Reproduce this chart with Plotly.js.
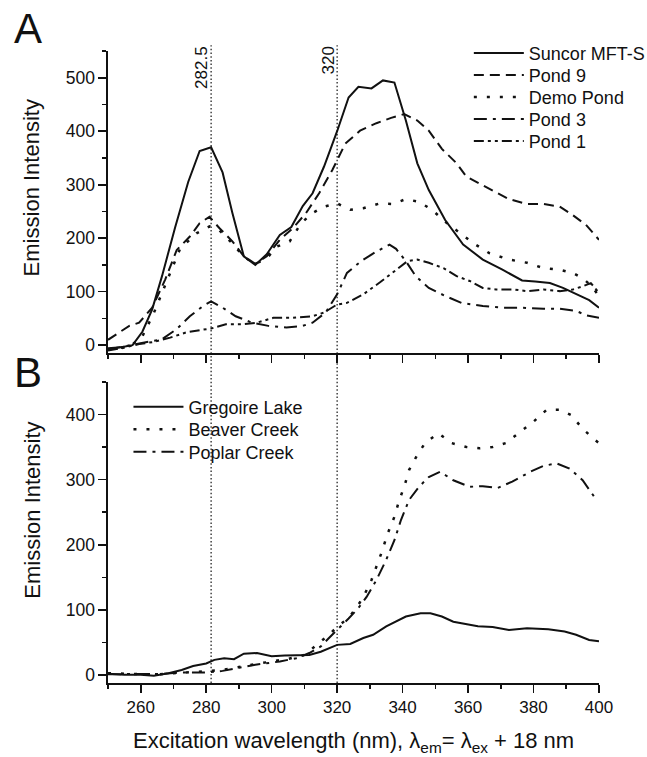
<!DOCTYPE html>
<html>
<head>
<meta charset="utf-8">
<script src="https://cdn.plot.ly/plotly-3.0.1.min.js"></script>
<style>html,body{margin:0;padding:0;background:#fff;}#chart{width:647px;height:757px;}</style>
</head>
<body>
<div id="chart"></div>
<script>
// ---- Panel A data ----
const suncorX = [250, 254, 257.5, 260.5, 263.5, 266.5, 270.5, 274.5, 278, 281.5, 285, 288, 291.5, 295, 298.5, 302.5, 306, 309.5, 312.5, 316, 320, 323.5, 326.5, 330.5, 334, 337.5, 341, 344.5, 348, 353, 358.5, 364.5, 370.5, 376.5, 380.5, 385, 389, 394, 397, 400];
const suncorY = [-6, -4, 0, 25, 67, 129, 220, 305, 363, 370, 323, 247, 166, 150, 170, 206, 221, 260, 284, 334, 400, 463, 483, 480, 495, 491, 420, 340, 290, 234, 188, 160, 141, 121, 119, 116, 107, 92, 84, 70];

const pond9X = [250, 253, 256.5, 259.5, 263.5, 267.5, 271, 275, 278, 281, 284, 288, 291.5, 295, 298.5, 302.5, 306.5, 310.5, 314.5, 318.5, 322.5, 327, 332, 336.5, 340.5, 344.5, 348, 352, 356.5, 359.5, 364.5, 368.5, 372.5, 378, 383, 388, 392, 396, 400];
const pond9Y = [10, 22, 36, 42, 70, 123, 178, 203, 228, 240, 219, 194, 166, 152, 166, 197, 219, 247, 284, 327, 377, 401, 415, 425, 432, 420, 401, 367, 340, 315, 299, 287, 273, 264, 264, 259, 243, 225, 197];

const demoX = [250, 253, 256, 260, 264, 268, 272, 277, 281, 284, 288, 291.5, 295, 298.5, 301.5, 305.5, 309, 312.5, 316, 320, 324, 328, 333, 337, 341, 345, 349, 353, 357.5, 361.5, 366.5, 372.5, 378, 383, 388, 392, 395, 397.5, 400];
const demoY = [-8, -6, -2, 10, 60, 120, 180, 209, 222, 215, 190, 165, 152, 162, 184, 194, 228, 247, 259, 265, 253, 256, 265, 264, 273, 268, 253, 231, 209, 191, 172, 160, 154, 144, 141, 135, 125, 112, 92];

const pond3X = [250, 253.5, 259.5, 263, 266.5, 271, 275, 279, 281.5, 285, 289, 294, 299, 304.5, 309.5, 312.5, 316.5, 320, 323, 327.5, 332, 336, 338, 341, 344, 348, 353, 358, 364.5, 370.5, 376.5, 383, 388, 393, 396, 400];
const pond3Y = [-8, -4, 2, 6, 11, 30, 54, 73, 82, 70, 54, 42, 36, 33, 36, 42, 61, 95, 135, 158, 175, 188, 180, 157, 129, 107, 92, 79, 73, 70, 70, 68, 68, 64, 56, 51];

const pond1X = [250, 254, 259.5, 264, 269, 274, 278, 281.5, 286, 291, 295.5, 300.5, 306.5, 312.5, 316, 320, 323, 328, 333, 338, 341.5, 344.5, 348, 352.5, 356.5, 360.5, 364.5, 368.5, 374, 378, 383, 388, 392, 395, 397.5, 400];
const pond1Y = [-10, -6, 2, 6, 14, 24, 28, 31, 39, 39, 42, 51, 51, 54, 61, 76, 79, 95, 117, 141, 157, 160, 154, 144, 129, 120, 107, 104, 104, 101, 104, 101, 104, 110, 116, 98];

// ---- Panel B data ----
const gregX = [250, 255, 260, 264, 268.5, 272.5, 276, 280, 282.5, 285.5, 288.5, 291.5, 295.5, 300, 304, 308, 311.5, 315, 320, 324, 328, 331, 335, 341, 345.5, 348.5, 352, 355.5, 359, 363, 367.5, 372.5, 378, 384.5, 389.5, 393, 397, 400];
const gregY = [2, 0.5, 0.5, -1, 3, 8, 14, 18, 23.5, 26, 24.5, 33, 34, 29, 30, 31, 31, 36, 46.5, 48, 57, 62, 75, 90, 95, 95, 90, 82, 79, 75, 74, 69.5, 72, 70.5, 67, 62, 54, 52];

const beaverX = [250, 255, 260, 265, 270, 275, 280, 285, 290, 295, 300, 305, 310, 315, 317.5, 320, 323.5, 326, 328, 330.5, 333.5, 335.5, 337.5, 339, 340.5, 342, 344.5, 347, 351, 355, 359.5, 363.5, 367.5, 371.5, 375.5, 380, 384, 388, 391.5, 395, 399, 400];
const beaverY = [3, 2, 2, 1, 3, 4, 6, 8, 13, 17, 21, 25, 31, 52, 62, 74, 88, 104, 120, 146, 187, 218, 243, 269, 289, 315, 338, 357, 371, 356, 350, 348, 350, 356, 371, 389, 407, 407, 399, 378, 360, 356];

const poplarX = [250, 255, 260, 267, 272, 280, 285, 290, 295, 302.5, 307.5, 311.5, 315, 317.5, 320, 323.5, 326.5, 329, 332, 335, 337.5, 339.5, 342, 345, 348, 351.5, 355.5, 360.5, 364.5, 369, 373.5, 379, 383, 387, 391, 395, 398.5, 400];
const poplarY = [1.5, 1.5, 1.5, 2, 4, 4, 6.6, 11, 16, 21, 26, 34, 44, 57, 69, 87, 103, 120, 146, 177, 207, 238, 269, 289, 304, 312, 299, 289, 290, 287, 297, 312, 321, 325, 317, 299, 274, 270];

const refLineX = [281.5, 320];
const refLineLabels = ['282.5', '320'];
const xTickVals = [260, 280, 300, 320, 340, 360, 380, 400];

const FONT = 'Liberation Sans, Arial, Helvetica, sans-serif';
const BLACK = '#111';

// figure geometry (pixels)
const W = 647, H = 757;
const M = {l: 107.5, r: 47.6, t: 50.7, b: 74, autoexpand: false};
const plotH = H - M.t - M.b;
const plotW = W - M.l - M.r;
const py = p => (H - M.b - p) / plotH;   // pixel row -> paper y
const px = p => (p - M.l) / plotW;       // pixel column -> paper x

// legend slots: [left pixel, row-centre pixel]
const legendSlots = [
  [469, 52.7], [469, 74.7], [469, 96.7], [469, 118.7], [469, 140.7],
  [128, 406.7], [128, 429.2], [128, 451.7]
];

function tr(name, x, y, dash, width, axis, idx) {
  return {
    type: 'scatter', mode: 'lines', name: name, x: x, y: y,
    xaxis: axis === 1 ? 'x' : 'x2', yaxis: axis === 1 ? 'y' : 'y2',
    legend: idx === 0 ? 'legend' : 'legend' + (idx + 1),
    line: {color: BLACK, width: width, dash: dash},
    hoverinfo: 'skip'
  };
}

const DOT = '3px,10px';
const DASHDOT = '13px,6px,3px,6px';
const traces = [
  tr('Suncor MFT-S', suncorX, suncorY, 'solid', 2, 1, 0),
  tr('Pond 9', pond9X, pond9Y, '10px,6px', 2, 1, 1),
  tr('Demo Pond', demoX, demoY, DOT, 2.5, 1, 2),
  tr('Pond 3', pond3X, pond3Y, DASHDOT, 2, 1, 3),
  tr('Pond 1', pond1X, pond1Y, '10px,4px,3px,4px,3px,4px', 2, 1, 4),
  tr('Gregoire Lake', gregX, gregY, 'solid', 2, 2, 5),
  tr('Beaver Creek', beaverX, beaverY, DOT, 2.5, 2, 6),
  tr('Poplar Creek', poplarX, poplarY, DASHDOT, 2, 2, 7)
];

function xAxisBase(labels) {
  return {
    range: [250, 400], showgrid: false, zeroline: false,
    showline: true, linecolor: BLACK, linewidth: 1.6,
    ticks: 'outside', ticklen: 8, tickwidth: 1.6, tickcolor: BLACK,
    tickmode: 'array', tickvals: xTickVals,
    showticklabels: labels,
    tickfont: {family: FONT, size: 17, color: BLACK},
    minor: {dtick: 10, tick0: 250, ticks: 'outside', ticklen: 4, tickwidth: 1.6, tickcolor: BLACK, showgrid: false},
    fixedrange: true
  };
}
function yAxisBase(range, domain) {
  return {
    range: range, domain: domain, showgrid: false, zeroline: false,
    showline: true, linecolor: BLACK, linewidth: 1.6,
    ticks: 'outside', ticklen: 8, tickwidth: 1.6, tickcolor: BLACK,
    tick0: 0, dtick: 100,
    tickfont: {family: FONT, size: 17.5, color: BLACK},
    minor: {dtick: 50, tick0: 0, ticks: 'outside', ticklen: 4, tickwidth: 1.6, tickcolor: BLACK, showgrid: false},
    fixedrange: true
  };
}

const topDomain = [py(353), 1];
const botDomain = [0, py(381.7)];

const shapes = refLineX.map(v => ({
  type: 'line', xref: 'x', yref: 'paper', x0: v, x1: v, y0: 0, y1: py(45),
  line: {color: BLACK, width: 1.2, dash: '1.5px,2.2px'}
}));

const annotations = [
  {text: 'A', xref: 'paper', yref: 'paper', x: px(27.5), y: py(28),
   showarrow: false, font: {family: FONT, size: 42, color: BLACK}, xanchor: 'center', yanchor: 'middle'},
  {text: 'B', xref: 'paper', yref: 'paper', x: px(27.5), y: py(372),
   showarrow: false, font: {family: FONT, size: 42, color: BLACK}, xanchor: 'center', yanchor: 'middle'},
  {text: 'Emission Intensity', xref: 'paper', yref: 'paper', x: px(31), y: py(187.5),
   textangle: -90, showarrow: false, font: {family: FONT, size: 22, color: BLACK}, xanchor: 'center', yanchor: 'middle'},
  {text: 'Emission Intensity', xref: 'paper', yref: 'paper', x: px(31), y: py(510),
   textangle: -90, showarrow: false, font: {family: FONT, size: 22, color: BLACK}, xanchor: 'center', yanchor: 'middle'},
  {text: 'Excitation wavelength (nm), λ<sub>em</sub>= λ<sub>ex</sub> + 18 nm', xref: 'paper', yref: 'paper',
   x: px(353.5), y: py(741.7), showarrow: false, font: {family: FONT, size: 22, color: BLACK}, xanchor: 'center', yanchor: 'middle'}
];
refLineX.forEach((v, i) => {
  annotations.push({text: refLineLabels[i], xref: 'x', yref: 'paper', x: v, xshift: -9, y: py(44),
    textangle: -90, showarrow: false, font: {family: FONT, size: 17, color: BLACK},
    xanchor: 'center', yanchor: 'top'});
});

const LEG_FS = 18;
const legTopOffset = (1.3 * LEG_FS + 3) / 2 + 5;
const layout = {
  width: W, height: H,
  margin: M,
  paper_bgcolor: '#fff', plot_bgcolor: 'rgba(0,0,0,0)',
  showlegend: true,
  font: {family: FONT, color: BLACK},
  xaxis: Object.assign(xAxisBase(false), {anchor: 'y'}),
  yaxis: Object.assign(yAxisBase([-15, 550], topDomain), {anchor: 'x'}),
  xaxis2: Object.assign(xAxisBase(true), {anchor: 'y2'}),
  yaxis2: Object.assign(yAxisBase([-12, 450], botDomain), {anchor: 'x2'}),
  shapes: shapes,
  annotations: annotations,
  hovermode: false
};
legendSlots.forEach((s, i) => {
  const key = i === 0 ? 'legend' : 'legend' + (i + 1);
  layout[key] = {
    bgcolor: 'rgba(0,0,0,0)', borderwidth: 0,
    font: {family: FONT, size: LEG_FS, color: BLACK}, itemwidth: 50,
    xanchor: 'left', yanchor: 'top',
    x: px(s[0]), y: py(s[1] - legTopOffset)
  };
});

Plotly.newPlot('chart', traces, layout, {displayModeBar: false, staticPlot: true});
</script>
</body>
</html>
